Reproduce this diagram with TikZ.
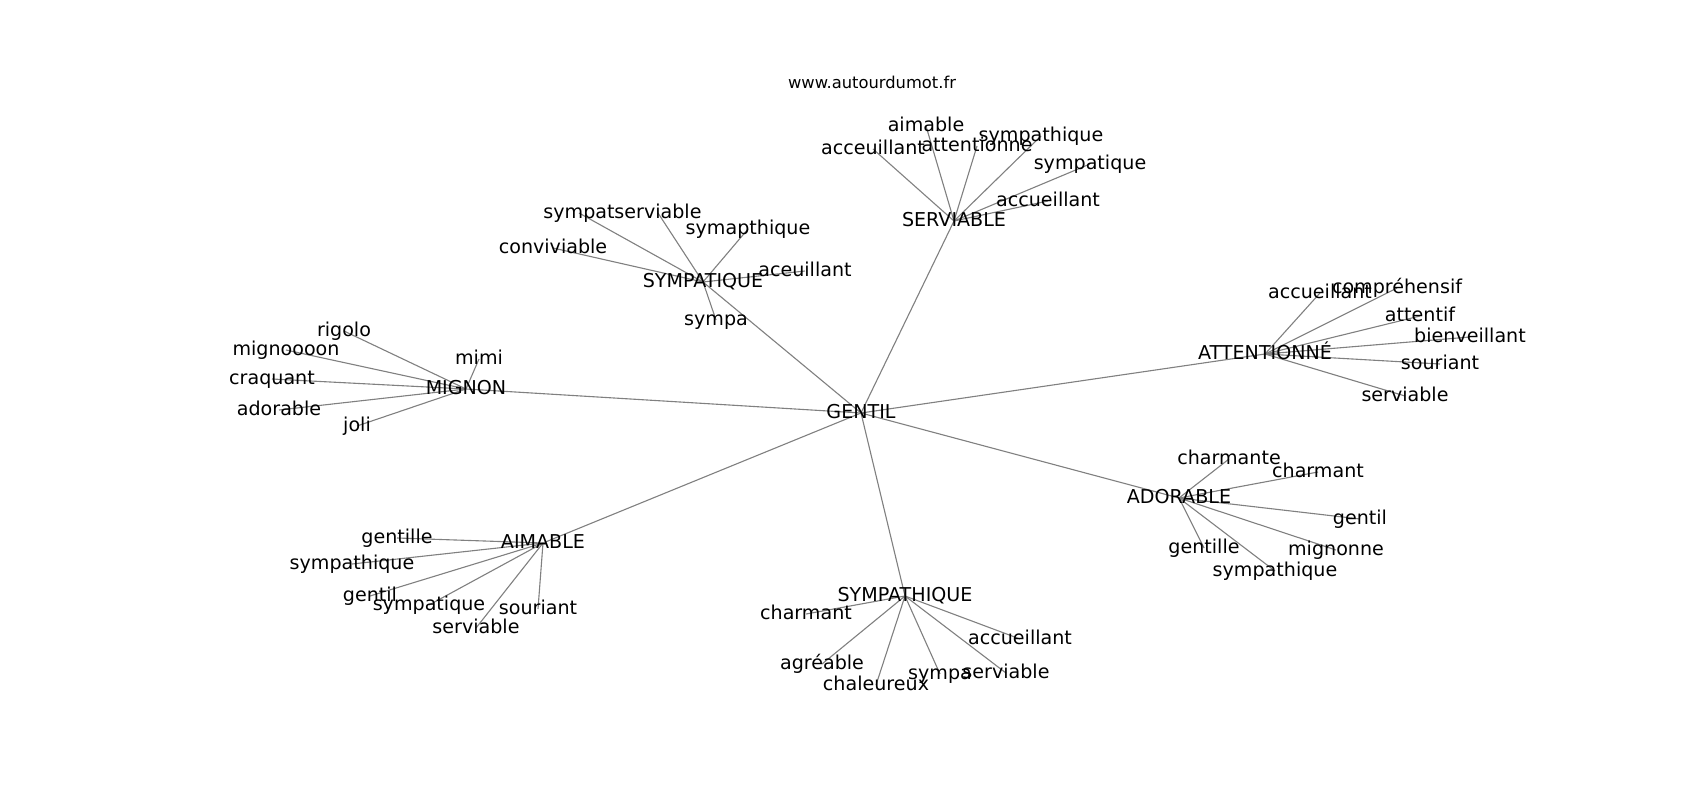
\documentclass[tikz,border=0pt]{standalone}
\usepackage{fontspec}
\setmainfont{DejaVu Sans}
\usetikzlibrary{backgrounds}

\begin{document}
\begin{tikzpicture}[x=0.254mm,y=-0.254mm,
        every node/.style={font=\fontsize{13.8}{16}\selectfont, inner sep=0pt, text height=10.5pt, text depth=2.9pt},
        site/.style={font=\fontsize{11.8}{14}\selectfont, text height=9pt, text depth=2.5pt},
        link/.style={draw=gray, line width=.8pt}]

      \useasboundingbox (0,0) rectangle (1700,800);
      \node[site] (site) at (872,84) {www.autourdumot.fr};

      % centre et branches
      \node (gentil)  at (861,413)  {GENTIL};
      \node (serv)    at (954,221)  {SERVIABLE};
      \node (sympa)   at (703,282)  {SYMPATIQUE};
      \node (mignon)  at (466,389)  {MIGNON};
      \node (aimable) at (543,543)  {AIMABLE};
      \node (sympath) at (905,596)  {SYMPATHIQUE};
      \node (ador)    at (1179,498) {ADORABLE};
      \node (attent)  at (1265,354) {ATTENTIONNÉ};

      % SERVIABLE
      \node (sv_1) at (926,126)  {aimable};
      \node (sv_2) at (873,149)  {acceuillant};
      \node (sv_3) at (977,146)  {attentionne};
      \node (sv_4) at (1041,136) {sympathique};
      \node (sv_5) at (1090,164) {sympatique};
      \node (sv_6) at (1048,201) {accueillant};

      % SYMPATIQUE
      \node (sq_1) at (579,213) {sympat};
      \node (sq_2) at (658,213) {serviable};
      \node (sq_3) at (553,248) {conviviable};
      \node (sq_4) at (748,229) {symapthique};
      \node (sq_5) at (805,271) {aceuillant};
      \node (sq_6) at (716,320) {sympa};

      % MIGNON
      \node (mg_1) at (344,331) {rigolo};
      \node (mg_2) at (286,350) {mignoooon};
      \node (mg_3) at (479,359) {mimi};
      \node (mg_4) at (272,379) {craquant};
      \node (mg_5) at (279,410) {adorable};
      \node (mg_6) at (357,426) {joli};

      % AIMABLE
      \node (am_1) at (397,538) {gentille};
      \node (am_2) at (352,564) {sympathique};
      \node (am_3) at (370,596) {gentil};
      \node (am_4) at (429,605) {sympatique};
      \node (am_5) at (538,609) {souriant};
      \node (am_6) at (476,628) {serviable};

      % SYMPATHIQUE
      \node (sh_1) at (806,614)  {charmant};
      \node (sh_2) at (1020,639) {accueillant};
      \node (sh_3) at (822,664)  {agréable};
      \node (sh_4) at (876,685)  {chaleureux};
      \node (sh_5) at (940,674)  {sympa};
      \node (sh_6) at (1006,673) {serviable};

      % ADORABLE
      \node (ad_1) at (1229,459) {charmante};
      \node (ad_2) at (1318,472) {charmant};
      \node (ad_3) at (1360,519) {gentil};
      \node (ad_4) at (1204,548) {gentille};
      \node (ad_5) at (1336,550) {mignonne};
      \node (ad_6) at (1275,571) {sympathique};

      % ATTENTIONNÉ
      \node (at_1) at (1320,293) {accueillant};
      \node (at_2) at (1397,288) {compréhensif};
      \node (at_3) at (1420,316) {attentif};
      \node (at_4) at (1470,337) {bienveillant};
      \node (at_5) at (1440,364) {souriant};
      \node (at_6) at (1405,396) {serviable};

      \begin{scope}[on background layer]
      \path[link] (gentil.center) edge (serv.center) edge (sympa.center) edge (mignon.center)
                      edge (aimable.center) edge (sympath.center) edge (ador.center) edge (attent.center)
                (serv.center) edge (sv_1.center) edge (sv_2.center) edge (sv_3.center)
                      edge (sv_4.center) edge (sv_5.center) edge (sv_6.center)
                (sympa.center) edge (sq_1.center) edge (sq_2.center) edge (sq_3.center)
                      edge (sq_4.center) edge (sq_5.center) edge (sq_6.center)
                (mignon.center) edge (mg_1.center) edge (mg_2.center) edge (mg_3.center)
                      edge (mg_4.center) edge (mg_5.center) edge (mg_6.center)
                (aimable.center) edge (am_1.center) edge (am_2.center) edge (am_3.center)
                      edge (am_4.center) edge (am_5.center) edge (am_6.center)
                (sympath.center) edge (sh_1.center) edge (sh_2.center) edge (sh_3.center)
                      edge (sh_4.center) edge (sh_5.center) edge (sh_6.center)
                (ador.center) edge (ad_1.center) edge (ad_2.center) edge (ad_3.center)
                      edge (ad_4.center) edge (ad_5.center) edge (ad_6.center)
                (attent.center) edge (at_1.center) edge (at_2.center) edge (at_3.center)
                      edge (at_4.center) edge (at_5.center) edge (at_6.center);
      \end{scope}
\end{tikzpicture}
\end{document}
